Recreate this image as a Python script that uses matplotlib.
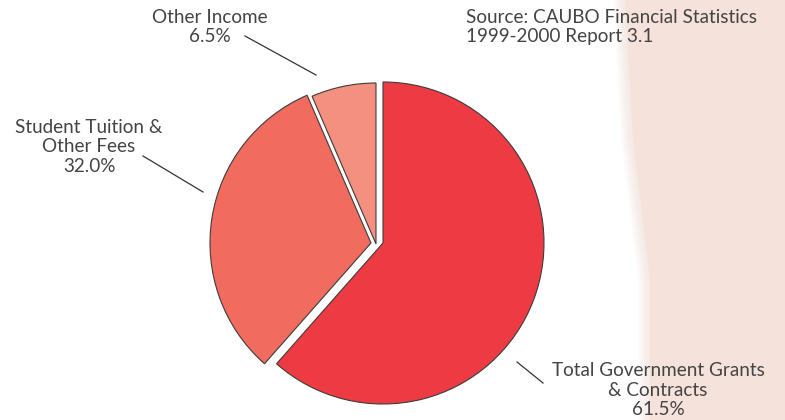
import matplotlib.pyplot as plt

# Revenue sources, percent of total
sources = ['Total Government Grants\n& Contracts', 'Student Tuition &\nOther Fees', 'Other Income']
shares = [61.5, 32.0, 6.5]
slice_colors = ['#EE3A43', '#F16B5F', '#F3907F']

plt.rcParams['font.family'] = ['Lato', 'DejaVu Sans']
text_color = '#444444'

W, H = 785, 420
fig = plt.figure(figsize=(W / 100, H / 100), dpi=100)
ax = fig.add_axes([0, 0, 1, 1])

# pink band on the right, soft left edge
band_x = [625, 633, 650, 650, W, W]
band_y = [H, 280, 140, 0, 0, H]
for shift in range(12, 0, -1):
    ax.fill([x - shift for x in band_x], band_y, color='#F5E2DB', alpha=0.07,
            lw=0, zorder=0)
ax.fill(band_x, band_y, color='#F5E2DB', lw=0, zorder=0)

cx, cy, r = 383, 177, 161
wedges, _ = ax.pie(shares, colors=slice_colors, startangle=90, counterclock=False,
                   center=(cx, cy), radius=r,
                   wedgeprops=dict(edgecolor='#3c3c3c', linewidth=0.8))

# pull the two smaller slices out to the left
shifts = [(0, 0), (-12, 0), (-7, -1)]
for w, (dx, dy) in zip(wedges, shifts):
    w.set_center((cx + dx, cy + dy))
    w.set_zorder(2)

label_style = dict(fontsize=13.6, color=text_color, ha='center', va='center',
                   linespacing=1.15, zorder=3)
ax.text(210, H - 27, sources[2] + '\n%.1f%%' % shares[2], **label_style)
ax.text(89, H - 147, sources[1] + '\n%.1f%%' % shares[1], **label_style)
ax.text(658, H - 390, sources[0] + '\n%.1f%%' % shares[0], **label_style)

ax.text(466, H - 27, 'Source: CAUBO Financial Statistics\n1999-2000 Report 3.1',
        fontsize=13.6, color=text_color, ha='left', va='center', linespacing=1.15,
        zorder=3)

# leader lines
line_style = dict(color='#333333', lw=0.9, zorder=3)
ax.plot([245, 316], [H - 36, H - 75], **line_style)
ax.plot([143, 203], [H - 156, H - 192], **line_style)
ax.plot([517, 543], [H - 362, H - 383], **line_style)

ax.set_xlim(0, W)
ax.set_ylim(0, H)
ax.set_aspect('equal')
ax.set_axis_off()

fig.savefig('out.png', dpi=100, facecolor='white')
